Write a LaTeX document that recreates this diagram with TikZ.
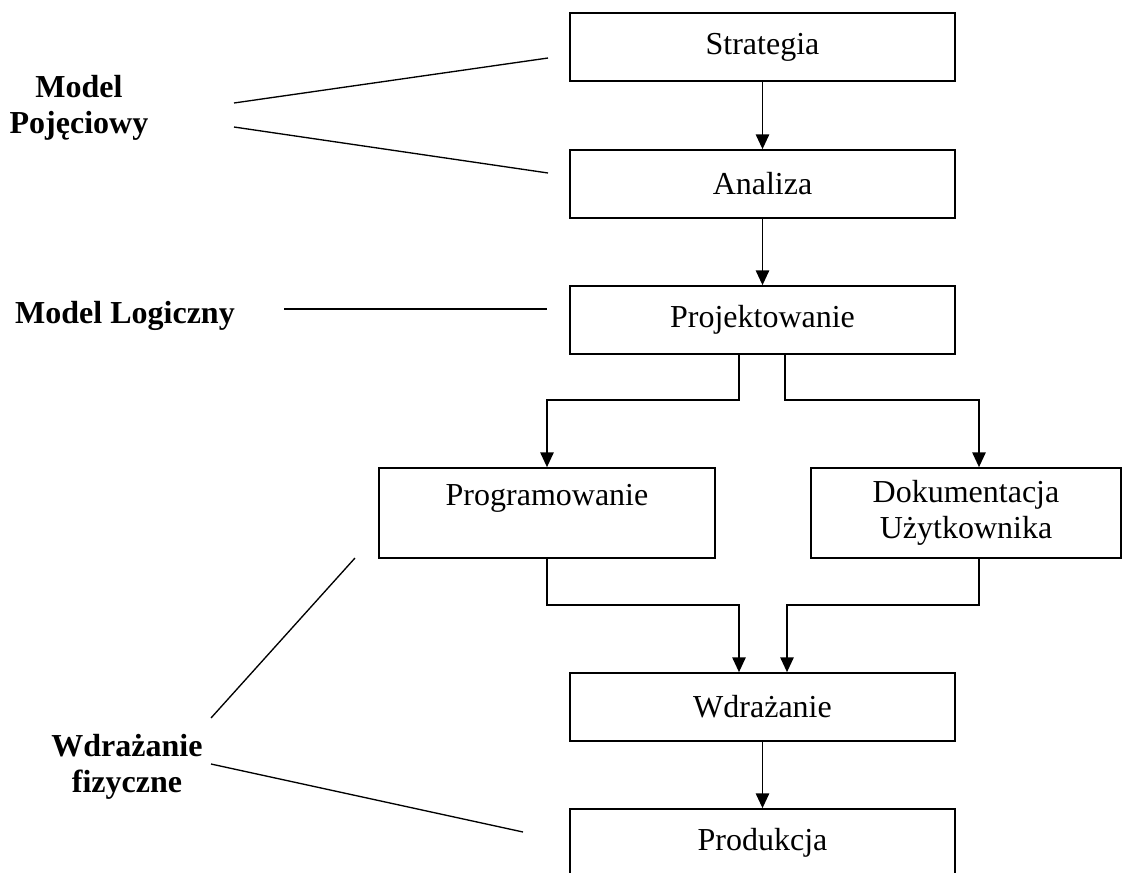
\documentclass[tikz,border=0pt]{standalone}
\usepackage{fontspec}
\setmainfont{Liberation Serif}
\usepackage{tikz}
\usetikzlibrary{positioning,arrows.meta,calc}
\newcommand{\rozmiarTekstu}{\fontsize{24}{26.5}\selectfont}
\tikzset{
  etapa/.style={draw, line width=1.3pt, minimum width=288.75pt, minimum height=51pt,
    inner sep=0pt, align=center, font=\rozmiarTekstu},
  etapaDuza/.style={etapa, minimum height=67.5pt},
  opis/.style={align=center, font=\rozmiarTekstu\bfseries},
  linia/.style={line width=1pt}
}
\begin{document}
\begin{tikzpicture}[x=0.75pt, y=-0.75pt, >={Triangle[length=11pt,width=10pt]}]
        \useasboundingbox (0,0) rectangle (1122,872);

        % Etapy
        \node[etapa] (strategia) at (762.5,47) {Strategia};
        \node[etapa] (analiza) at (762.5,184) {Analiza};
        \node[etapa] (projekt) at (762.5,320) {Projektowanie};
        \node[etapaDuza, minimum width=252pt] (program) at (547,513) {Programowanie\\~};
        \node[etapaDuza, minimum width=232.5pt] (dokument) at (966,513) {Dokumentacja\\Użytkownika};
        \node[etapa] (wdrazanie) at (762.5,707) {Wdrażanie};
        \node[etapa] (produkcja) at (762.5,843) {Produkcja};

        % Przejscia
        \draw[linia, ->] (strategia) -- (analiza);
        \draw[linia, ->] (analiza) -- (projekt);
        \draw[linia, ->] ($(projekt.south)+(-23.5,0)$) -- ++(0,45) -| (program.north);
        \draw[linia, ->] ($(projekt.south)+(22.5,0)$) -- ++(0,45) -| ($(dokument.north)+(13,0)$);
        \draw[linia, ->] (program.south) -- ++(0,46) -| ($(wdrazanie.north)+(-23.5,0)$);
        \draw[linia, ->] ($(dokument.south)+(13,0)$) -- ++(0,46) -| ($(wdrazanie.north)+(24.5,0)$);
        \draw[linia, ->] (wdrazanie) -- (produkcja);

        % Model Pojeciowy
        \node[opis] (pojeciowy) at (79,108) {Model\\Pojęciowy};
        \coordinate (pojA) at (234,103);
        \coordinate (pojB) at (548,58);
        \coordinate (pojC) at (234,127);
        \coordinate (pojD) at (548,173);
        \draw[linia] (pojA) -- (pojB);
        \draw[linia] (pojC) -- (pojD);

        % Model Logiczny
        \node[opis] (logiczny) at (125,316) {Model Logiczny};
        \coordinate (logA) at (284,309);
        \coordinate (logB) at (547,309);
        \draw[linia] (logA) -- (logB);

        % Wdrazanie fizyczne
        \node[opis] (fizyczne) at (127,767) {Wdrażanie\\fizyczne};
        \coordinate (fizA) at (211,718);
        \coordinate (fizB) at (355,558);
        \coordinate (fizC) at (211,764);
        \coordinate (fizD) at (523,832);
        \draw[linia] (fizA) -- (fizB);
        \draw[linia] (fizC) -- (fizD);
\end{tikzpicture}
\end{document}
